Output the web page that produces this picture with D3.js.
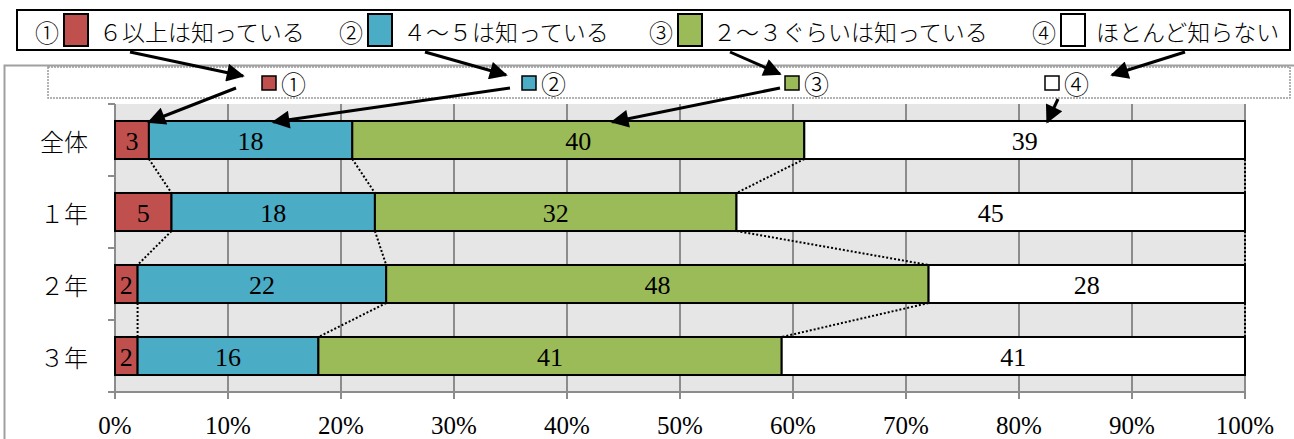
<!DOCTYPE html>
<html>
<head>
<meta charset="utf-8">
<script src="https://cdn.jsdelivr.net/npm/d3@7"></script>
<style>
  body { margin: 0; background: #fff; }
  svg { display: block; }
  text { font-family: "Liberation Serif", "DejaVu Serif", "Noto Sans CJK JP", serif; }
  .jp { font-family: "Noto Sans CJK JP", "Liberation Serif", serif; font-weight: 300; }
</style>
</head>
<body>
<svg width="1294" height="439"></svg>
<script>
// data (percent)
var categories = ["全体", "１年", "２年", "３年"];
var seriesNames = ["６以上は知っている", "４～５は知っている", "２～３ぐらいは知っている", "ほとんど知らない"];
var seriesMarks = ["①", "②", "③", "④"];
var seriesColors = ["#c0504d", "#4bacc6", "#9bbb59", "#ffffff"];
var six = [3, 5, 2, 2];
var fourFive = [18, 18, 22, 16];
var twoThree = [40, 32, 48, 41];
var hardly = [39, 45, 28, 41];
var xTicks = [0, 10, 20, 30, 40, 50, 60, 70, 80, 90, 100];

var series = [six, fourFive, twoThree, hardly];

var svg = d3.select("svg");
var pLeft = 115, pRight = 1245, pTop = 104, pBottom = 392;

var x = d3.scaleLinear().domain([0, 100]).range([pLeft, pRight]);
var y = d3.scaleBand().domain(categories).range([pTop, pBottom])
  .paddingInner(0.472).paddingOuter(0.236);

// outer chart frame
svg.append("rect")
  .attr("x", 4.5).attr("y", 65.5).attr("width", 1300).attr("height", 400)
  .attr("fill", "none").attr("stroke", "#a0a0a0").attr("stroke-width", 2);

// plot background + grid
svg.append("rect")
  .attr("x", pLeft).attr("y", pTop).attr("width", pRight - pLeft).attr("height", pBottom - pTop)
  .attr("fill", "#e6e6e6");

svg.append("g").selectAll("line").data(xTicks).join("line")
  .attr("x1", function(d) { return x(d); }).attr("x2", function(d) { return x(d); })
  .attr("y1", pTop).attr("y2", pBottom + 7)
  .attr("stroke", "#8c8c8c").attr("stroke-width", 2);

// category axis
svg.append("line")
  .attr("x1", pLeft).attr("x2", pLeft).attr("y1", pTop).attr("y2", pBottom)
  .attr("stroke", "#8c8c8c").attr("stroke-width", 2);
svg.append("g").selectAll("line").data(d3.range(categories.length + 1)).join("line")
  .attr("x1", pLeft - 7).attr("x2", pLeft)
  .attr("y1", function(i) { return pTop + i * y.step(); })
  .attr("y2", function(i) { return pTop + i * y.step(); })
  .attr("stroke", "#8c8c8c").attr("stroke-width", 2);
svg.append("line")
  .attr("x1", pLeft).attr("x2", pRight).attr("y1", pBottom).attr("y2", pBottom)
  .attr("stroke", "#8c8c8c").attr("stroke-width", 2);

svg.append("g").selectAll("text").data(xTicks).join("text")
  .attr("x", function(d) { return x(d); })
  .attr("y", 434)
  .attr("text-anchor", "middle")
  .attr("font-size", 25)
  .text(function(d) { return d + "%"; });

svg.append("g").selectAll("text").data(categories).join("text")
  .attr("class", "jp")
  .attr("x", 88)
  .attr("y", function(d) { return y(d) + y.bandwidth() / 2; })
  .attr("text-anchor", "end").attr("dominant-baseline", "central")
  .attr("font-size", 24)
  .text(function(d) { return d; });

// stacked rows
var stacked = categories.map(function(c, i) {
  var acc = 0;
  return series.map(function(s, k) {
    var seg = { cat: c, k: k, v: s[i], x0: acc, x1: acc + s[i] };
    acc += s[i];
    return seg;
  });
});

// dotted connectors between rows
var conn = [];
for (var i = 0; i < categories.length - 1; i++) {
  for (var k = 0; k < series.length; k++) {
    conn.push({ a: stacked[i][k].x1, b: stacked[i + 1][k].x1, c0: categories[i], c1: categories[i + 1] });
  }
}
svg.append("g").selectAll("line").data(conn).join("line")
  .attr("x1", function(d) { return x(d.a); })
  .attr("y1", function(d) { return y(d.c0) + y.bandwidth(); })
  .attr("x2", function(d) { return x(d.b); })
  .attr("y2", function(d) { return y(d.c1); })
  .attr("stroke", "#000").attr("stroke-width", 2).attr("stroke-dasharray", "2,2");

var rows = svg.append("g").selectAll("g").data(stacked).join("g");
rows.selectAll("rect").data(function(d) { return d; }).join("rect")
  .attr("x", function(d) { return x(d.x0); })
  .attr("y", function(d) { return y(d.cat); })
  .attr("width", function(d) { return x(d.x1) - x(d.x0); })
  .attr("height", y.bandwidth())
  .attr("fill", function(d) { return seriesColors[d.k]; })
  .attr("stroke", "#000").attr("stroke-width", 2);
rows.selectAll("text").data(function(d) { return d; }).join("text")
  .attr("x", function(d) { return x((d.x0 + d.x1) / 2); })
  .attr("y", function(d) { return y(d.cat) + y.bandwidth() / 2 + 1; })
  .attr("text-anchor", "middle").attr("dominant-baseline", "central")
  .attr("font-size", 26)
  .text(function(d) { return d.v; });

// top legend box
svg.append("rect")
  .attr("x", 17).attr("y", 10).attr("width", 1273).attr("height", 40)
  .attr("fill", "#fff").attr("stroke", "#000").attr("stroke-width", 2);

var legendX = [35, 339, 649, 1032];
var lg = svg.append("g").selectAll("g").data(seriesNames).join("g")
  .attr("transform", function(d, k) { return "translate(" + legendX[k] + ",0)"; });
lg.append("text")
  .attr("class", "jp")
  .attr("x", 0).attr("y", 31).attr("dominant-baseline", "central")
  .attr("font-size", 24)
  .text(function(d, k) { return seriesMarks[k]; });
lg.append("rect")
  .attr("x", 29).attr("y", 14).attr("width", 24).attr("height", 32)
  .attr("fill", function(d, k) { return seriesColors[k]; })
  .attr("stroke", "#000").attr("stroke-width", 2);
lg.append("text")
  .attr("class", "jp")
  .attr("x", 64).attr("y", 31).attr("dominant-baseline", "central")
  .attr("font-size", 23)
  .text(function(d) { return d; });

// inner (chart) legend, dotted frame
svg.append("rect")
  .attr("x", 48).attr("y", 67).attr("width", 1242).attr("height", 31)
  .attr("fill", "#fff").attr("stroke", "#999").attr("stroke-width", 1.5)
  .attr("stroke-dasharray", "2,1");

var innerX = [262, 522, 785, 1045];
var ig = svg.append("g").selectAll("g").data(seriesMarks).join("g")
  .attr("transform", function(d, k) { return "translate(" + innerX[k] + ",0)"; });
ig.append("rect")
  .attr("x", 0).attr("y", 76).attr("width", 14).attr("height", 14)
  .attr("fill", function(d, k) { return seriesColors[k]; })
  .attr("stroke", "#000").attr("stroke-width", 1.5);
ig.append("text")
  .attr("class", "jp")
  .attr("x", 19).attr("y", 83).attr("dominant-baseline", "central")
  .attr("font-size", 25)
  .text(function(d) { return d; });

// annotation arrows
svg.append("defs").append("marker")
  .attr("id", "ah").attr("viewBox", "0 0 10 10").attr("refX", 9).attr("refY", 5)
  .attr("markerWidth", 6.5).attr("markerHeight", 6).attr("orient", "auto")
  .append("path").attr("d", "M0,0L10,5L0,10z").attr("fill", "#000");

var barTop = y(categories[0]) + 1;
var arrows = [
  [130, 52, 243, 76], [425, 52, 506, 75], [730, 52, 780, 74], [1185, 52, 1112, 75],
  [236, 88, x(3), barTop], [510, 88, x(14), barTop], [780, 88, x(44), barTop], [1058, 99, x(82.5), barTop]
];
svg.append("g").selectAll("line").data(arrows).join("line")
  .attr("x1", function(d) { return d[0]; }).attr("y1", function(d) { return d[1]; })
  .attr("x2", function(d) { return d[2]; }).attr("y2", function(d) { return d[3]; })
  .attr("stroke", "#000").attr("stroke-width", 3)
  .attr("marker-end", "url(#ah)");
</script>
</body>
</html>
